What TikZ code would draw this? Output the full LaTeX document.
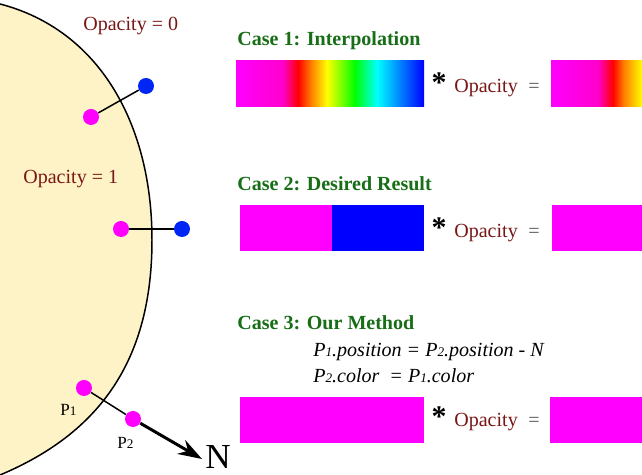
\documentclass[tikz,border=0pt]{standalone}
\usepackage{fontspec}
\setmainfont{Liberation Serif}
\usetikzlibrary{arrows.meta}
\definecolor{blobfill}{HTML}{FEF3C6}
\definecolor{opred}{HTML}{7A1616}
\definecolor{casegreen}{HTML}{176E17}
\definecolor{pmag}{HTML}{FF00FF}
\definecolor{pblue}{HTML}{0000FF}
\definecolor{dotblue}{HTML}{0026F5}
\definecolor{eqgray}{HTML}{5A5A5A}

% rainbow strips (inner 25bp--75bp span is fitted to the node)
\pgfdeclarehorizontalshading{rainbow}{100bp}{color(0bp)=(pmag); color(25bp)=(pmag);
  color(37.5bp)=(pmag!80!red); color(41.5bp)=(red); color(45bp)=(orange);
  color(49.2bp)=(yellow); color(56.6bp)=(green); color(62.5bp)=(cyan);
  color(75bp)=(pblue); color(100bp)=(pblue)}
\pgfdeclarehorizontalshading{rainbowhalf}{100bp}{color(0bp)=(pmag); color(25bp)=(pmag);
  color(50.8bp)=(pmag!80!red); color(59bp)=(red); color(65bp)=(orange);
  color(75bp)=(yellow); color(100bp)=(yellow)}

\newcommand{\pidx}[1]{{\fontsize{7.5}{9}\selectfont #1}}

\begin{document}
\begin{tikzpicture}[
  >={Stealth[length=4.8mm, width=3.2mm]},
  dot/.style={circle, fill=#1, minimum size=3.2mm, inner sep=0pt},
  link/.style={line width=0.85pt, black},
  optxt/.style={text=opred, font=\fontsize{11.4}{13.7}\selectfont, anchor=base west, inner sep=0pt},
  casetitle/.style={text=casegreen, font=\fontsize{11.4}{13.7}\selectfont\bfseries, anchor=base west, inner sep=0pt},
  eqline/.style={font=\fontsize{11.4}{13.7}\selectfont\itshape, anchor=base west, inner sep=0pt},
  star/.style={font=\fontsize{17}{20}\selectfont\bfseries, anchor=base, inner sep=0pt},
  eqsign/.style={text=eqgray, font=\fontsize{11.4}{13.7}\selectfont, anchor=base, inner sep=0pt},
  strip/.style={minimum width=#1, minimum height=9.3mm, inner sep=0pt},
  plabel/.style={font=\fontsize{9.7}{11}\selectfont, anchor=base west, inner sep=0pt},
]

% Canvas (642 x 475 px, 1px = 0.02cm)
\fill[white] (0,0) rectangle (12.84,9.5);
\useasboundingbox (0,0) rectangle (12.84,9.5);

% === Surface ===
\fill[blobfill] (0,9.42) .. controls (2.0,8.9) and (3.04,7.0) .. (3.04,4.70)
  .. controls (3.04,2.30) and (2.0,0.84) .. (0,0) -- cycle;
\draw[line width=0.85pt] (0,9.42) .. controls (2.0,8.9) and (3.04,7.0) .. (3.04,4.70)
  .. controls (3.04,2.30) and (2.0,0.84) .. (0,0);

\node[optxt] (op0) at (1.66,8.88) {Opacity = 0};
\node[optxt] (op1) at (0.46,5.82) {Opacity = 1};

% === Point pairs ===
\node[dot=pmag] (m1) at (1.82,7.16) {};
\node[dot=dotblue] (b1) at (2.92,7.78) {};
\draw[link] (m1) -- (b1);

\node[dot=pmag] (m2) at (2.42,4.92) {};
\node[dot=dotblue] (b2) at (3.64,4.92) {};
\draw[link] (m2) -- (b2);

\node[dot=pmag] (p1) at (1.68,1.74) {};
\node[dot=pmag] (p2) at (2.66,1.12) {};
\coordinate (ntip) at (4.04,0.32);
\draw[link] (p1) -- (p2);
\draw[->, line width=1.7pt] (p2) -- (ntip);

\node[plabel] (p1lab) at (1.20,1.18) {P\pidx{1}};
\node[plabel] (p2lab) at (2.34,0.52) {P\pidx{2}};
\node[font=\fontsize{20}{24}\selectfont, anchor=base west, inner sep=0pt] (nlab) at (4.10,0.12) {N};

% === Case 1 ===
\node[casetitle] (case1) at (4.74,8.58) {Case 1: Interpolation};
\node[strip=3.76cm, shading=rainbow] (bar1) at (6.60,7.83) {};
\node[star] (star1) at (8.78,7.64) {*};
\node[optxt] (opa1) at (9.08,7.64) {Opacity};
\node[eqsign] (eq1) at (10.68,7.64) {=};
\node[strip=1.82cm, shading=rainbowhalf] (res1) at (11.93,7.83) {};

% === Case 2 ===
\node[casetitle] (case2) at (4.74,5.68) {Case 2: Desired Result};
\node[strip=1.84cm, fill=pmag] (bar2a) at (5.72,4.94) {};
\node[strip=1.84cm, fill=pblue] (bar2b) at (7.56,4.94) {};
\node[star] (star2) at (8.78,4.74) {*};
\node[optxt] (opa2) at (9.08,4.74) {Opacity};
\node[eqsign] (eq2) at (10.68,4.74) {=};
\node[strip=1.80cm, fill=pmag] (res2) at (11.94,4.94) {};

% === Case 3 ===
\node[casetitle] (case3) at (4.74,2.90) {Case 3: Our Method};
\node[eqline] (rule1) at (6.26,2.36) {P\pidx{1}.position = P\pidx{2}.position - N};
\node[eqline] (rule2) at (6.26,1.84) {P\pidx{2}.color\ \ = P\pidx{1}.color};
\node[strip=3.68cm, fill=pmag] (bar3) at (6.64,1.10) {};
\node[star] (star3) at (8.78,0.96) {*};
\node[optxt] (opa3) at (9.08,0.96) {Opacity};
\node[eqsign] (eq3) at (10.68,0.96) {=};
\node[strip=1.84cm, fill=pmag] (res3) at (11.92,1.10) {};

\end{tikzpicture}
\end{document}
